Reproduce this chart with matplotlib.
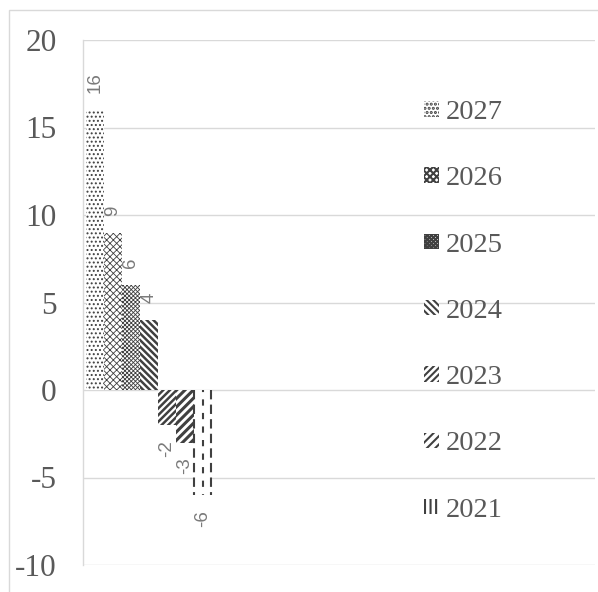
import matplotlib
matplotlib.use("Agg")
import matplotlib.pyplot as plt
from matplotlib.patches import Rectangle

plt.rcParams["axes.unicode_minus"] = False

# data
years = ["2027", "2026", "2025", "2024", "2023", "2022", "2021"]
values = [16, 9, 6, 4, -2, -3, -6]
y_ticks = [-10, -5, 0, 5, 10, 15, 20]

# hatch per series (2021 gets dashed lines drawn by hand below)
hatches = ["....", "x" * 5, "x" * 8, "\\" * 5, "/" * 5, "/" * 4, ""]
hatch_lw = [0.9, 0.6, 0.6, 1.8, 1.8, 2.2, 1.0]

DARK = "#404040"
GRID = "#d9d9d9"
TEXT = "#595959"
LABEL = "#7a7a7a"

fig = plt.figure(figsize=(5.98, 5.92), dpi=100)
fig.patch.set_facecolor("white")
ax = fig.add_axes([83 / 598, 1 - 565 / 592, (595 - 83) / 598, (565 - 40) / 592])

# figure frame (light grey, runs off the right/bottom edge)
fig.add_artist(Rectangle((9 / 598, -0.2), 1.5, 1.2 - 10 / 592,
                         transform=fig.transFigure, fill=False,
                         edgecolor=GRID, lw=1.0))

bars = []
for i, (yr, v) in enumerate(zip(years, values)):
    plt.rcParams["hatch.linewidth"] = hatch_lw[i]
    b = ax.bar(i, v, width=1.0, align="edge", facecolor="white",
               edgecolor=DARK, linewidth=0, hatch=hatches[i] or None,
               label=yr, zorder=2)
    bars.append(b)

# dashed vertical pattern for 2021
r = bars[-1].patches[0]
x0, w, h = r.get_x(), r.get_width(), r.get_height()
ax.vlines([x0 + 0.05, x0 + w / 2, x0 + w - 0.05], 0, h, colors=DARK,
          linewidth=1.5, linestyles=[(0, (4.5, 2.5)), (2, (3, 3.5)), (0, (4.5, 2.5))],
          zorder=3)

# data labels, rotated
for i, v in enumerate(values):
    off = 17 if v > 0 else -15
    ax.annotate(str(v), xy=(i + 0.5, v), xytext=(0, off),
                textcoords="offset pixels", rotation=90,
                ha="center", va="bottom" if v > 0 else "top",
                fontsize=13.5, color=LABEL, family="Liberation Sans")

ax.set_xlim(-0.17, 28.4)
ax.set_ylim(-10, 20)
ax.set_yticks(y_ticks)
ax.set_xticks([])
ax.grid(axis="y", color=GRID, lw=1.0, zorder=0)
for s in ["top", "right", "bottom"]:
    ax.spines[s].set_visible(False)
ax.spines["left"].set_color(GRID)
ax.spines["left"].set_linewidth(1.0)
ax.tick_params(axis="y", length=0, pad=19, labelsize=22.5, labelcolor=TEXT)
for t in ax.get_yticklabels():
    t.set_family("Liberation Serif")

# legend handle for 2021
plt.rcParams["hatch.linewidth"] = 1.5
leg_handles = [b.patches[0] for b in bars[:-1]]
leg_handles.append(Rectangle((0, 0), 1, 1, facecolor="white", edgecolor=DARK,
                             lw=0, hatch="|||"))
leg = ax.legend(leg_handles, years, loc="upper left",
                bbox_to_anchor=(424 / 598, 1 - 100 / 592),
                bbox_transform=fig.transFigure, frameon=False,
                borderpad=0, borderaxespad=0, handlelength=0.52,
                handleheight=0.45, handletextpad=0.25, labelspacing=1.45,
                prop={"family": "Liberation Serif", "size": 20.5})
for t in leg.get_texts():
    t.set_color(TEXT)

fig.savefig("out.png", dpi=100, facecolor="white")
